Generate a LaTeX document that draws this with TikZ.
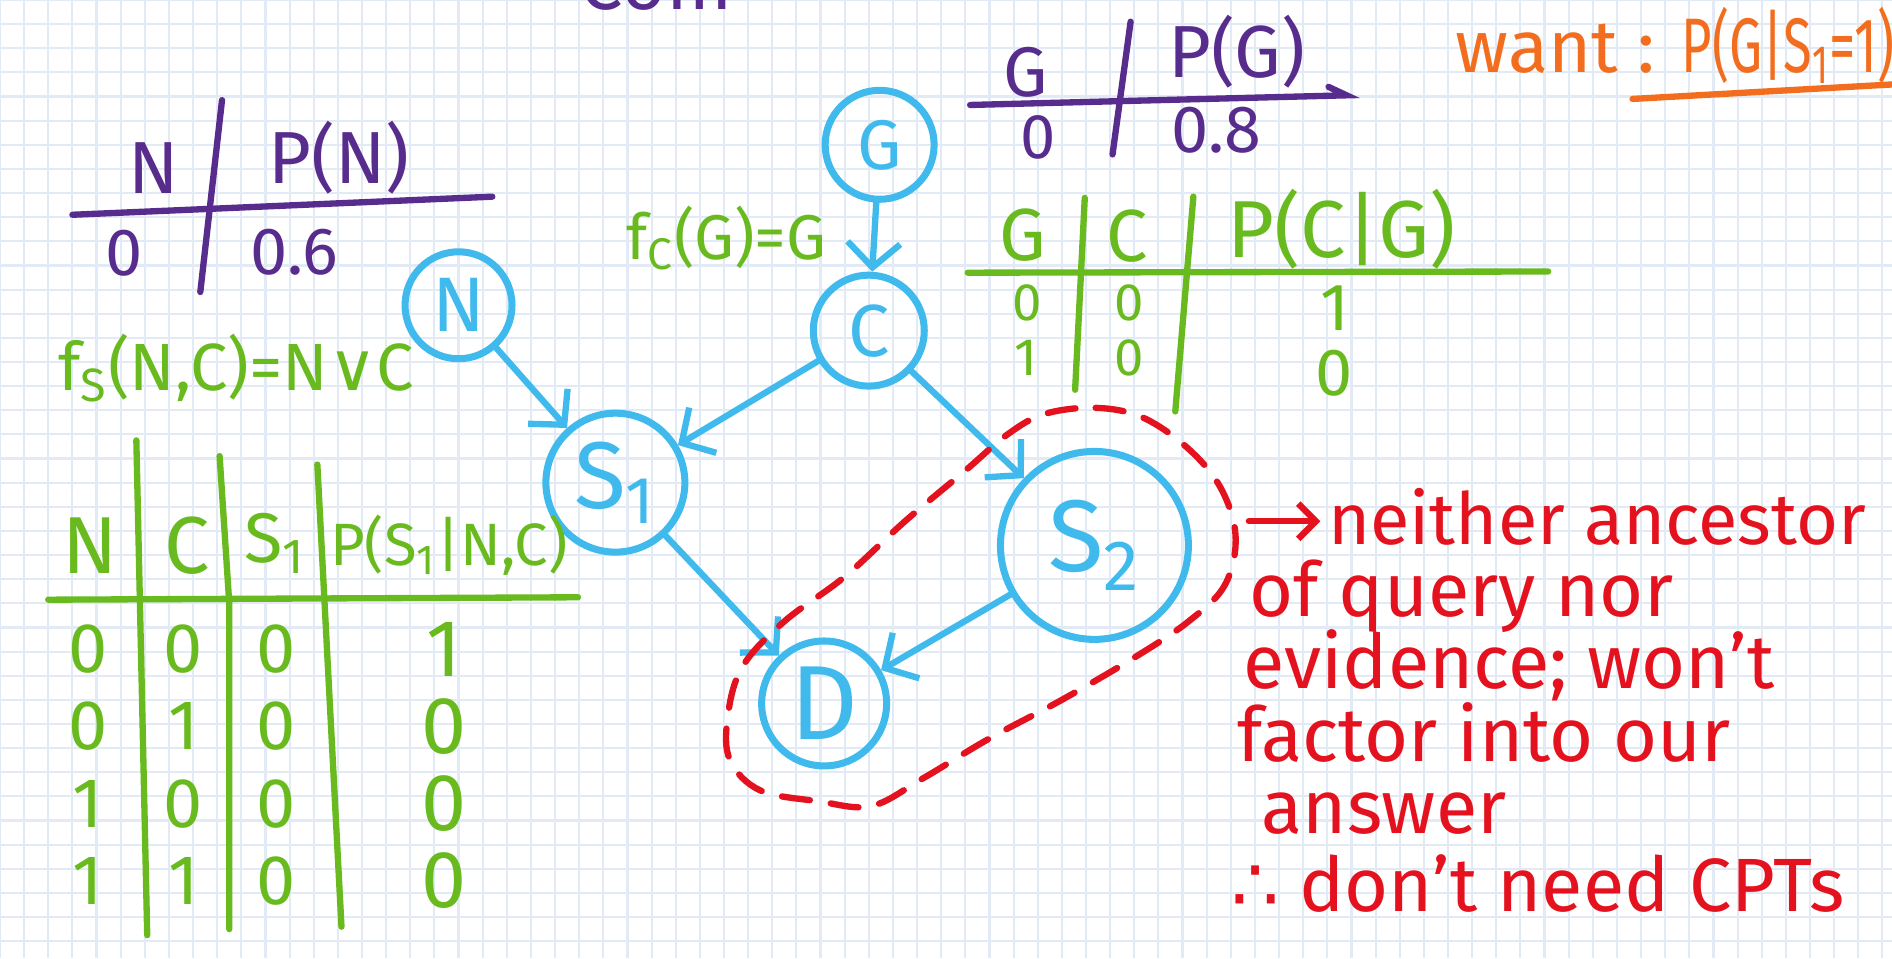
\documentclass[tikz,border=0pt]{standalone}
\usepackage{graphicx}
\usepackage{fontspec}
\setmainfont{Fira Sans}
\newfontfamily\symfont{DejaVu Sans}
\usetikzlibrary{arrows.meta}
\definecolor{cblue}{RGB}{64,186,236}
\definecolor{cgreen}{RGB}{104,186,30}
\definecolor{cpurple}{RGB}{88,44,140}
\definecolor{cred}{RGB}{228,18,30}
\definecolor{corange}{RGB}{242,110,30}
\definecolor{cgrid}{RGB}{226,234,246}
\newcommand{\myfs}[1]{\fontsize{#1}{#1}\selectfont}
\tikzset{
  gnode/.style={circle, draw=cblue, line width=2pt, text=cblue, inner sep=0pt},
  arr/.style={draw=cblue, line width=1.8pt, line cap=round, -{Straight Barb[length=7pt,width=15pt]}},
  pur/.style={text=cpurple, inner sep=0pt},
  grn/.style={text=cgreen, inner sep=0pt},
  rdt/.style={text=cred, inner sep=0pt, anchor=base west, font=\myfs{21.5}},
  org/.style={text=corange, inner sep=0pt},
  purline/.style={draw=cpurple, line width=1.8pt, line cap=round},
  grnline/.style={draw=cgreen, line width=1.8pt, line cap=round},
  gridline/.style={draw=cgrid, line width=0.6pt},
}
\begin{document}
\begin{tikzpicture}[x=0.012066cm, y=-0.012066cm]
\useasboundingbox (0,0) rectangle (1568,794);
\clip (0,0) rectangle (1568,794);
\fill[white] (0,0) rectangle (1568,794);
\foreach \gx in {0,20,...,1560} \draw[gridline] (\gx,0) -- (\gx,794);
\foreach \gy in {0,20,...,780} \draw[gridline] (0,\gy) -- (1568,\gy);

% top fragment
\node[pur, anchor=base west, font=\myfs{22}] (frag) at (480,8) {Com};

% ---- graph nodes
\node[gnode, minimum size=1.09cm, font=\myfs{20}] (G) at (729,120) {G};
\node[gnode, minimum size=1.11cm, font=\myfs{21}] (C) at (720,274) {C};
\node[gnode, minimum size=1.07cm, font=\myfs{22}] (N) at (380,253) {N};
\node[gnode, minimum size=1.39cm, font=\myfs{27}] (S1) at (510,400) {S\textsubscript{1}};
\node[gnode, minimum size=1.88cm, font=\myfs{29}] (S2) at (907,452) {S\textsubscript{2}};
\node[gnode, minimum size=1.25cm, font=\myfs{30}] (D) at (683,583) {D};

\draw[arr] (G) -- (C);
\draw[arr] (N) -- (S1);
\draw[arr] (C) -- (S1);
\draw[arr] (C) -- (S2);
\draw[arr] (S1) -- (D);
\draw[arr] (S2) -- (D);

% ---- P(N) table
\node[pur, font=\myfs{21}] (hN) at (127,139) {N};
\node[pur, font=\myfs{21}] (hPN) at (281,131) {P(N)};
\draw[purline] (184,83) -- (166,242);
\draw[purline] (60,178) -- (408,163);
\node[pur, font=\myfs{19}] (vN0) at (103,210) {0};
\node[pur, font=\myfs{19}] (vPN) at (244,209) {0.6};

% ---- P(G) table
\node[pur, font=\myfs{20}] (hG) at (850,60) {G};
\node[pur, font=\myfs{21}] (hPG) at (1025,43) {P(G)};
\draw[purline] (937,18) -- (922,128);
\draw[purline] (804,87) -- (1116,79) -- (1101,72);
\node[pur, font=\myfs{18}] (vG0) at (860,114) {0};
\node[pur, font=\myfs{19}] (vPG) at (1008,108) {0.8};

% ---- want
\node[org, anchor=base west, font=\myfs{21}] (want) at (1206,60) {want :};
\node[org, anchor=base west, font=\myfs{22}] (query) at (1393,60) {\scalebox{0.68}[1]{P(G|S\textsubscript{1}=1)}};
\draw[draw=corange, line width=1.8pt, line cap=round] (1353,82) -- (1568,70);

% ---- functions
\node[grn, font=\myfs{18}] (fc) at (602,197) {f\textsubscript{C}(G)=G};
\node[grn, font=\myfs{19}] (fs) at (196,305) {f\textsubscript{S}(N,C)=N{\symfont ∨}C};

% ---- P(C|G) table
\node[grn, font=\myfs{21}] (tG) at (848,195) {G};
\node[grn, font=\myfs{21}] (tC) at (934,196) {C};
\node[grn, font=\myfs{23}] (tP) at (1112,190) {P(C|G)};
\draw[grnline] (899,164) -- (891,323);
\draw[grnline] (989,163) -- (974,341);
\draw[grnline] (802,226) -- (1283,225);
\node[grn, font=\myfs{15}] (a11) at (851,251) {0};
\node[grn, font=\myfs{15}] (a12) at (936,251) {0};
\node[grn, font=\myfs{19}] (a13) at (1106,255) {1};
\node[grn, font=\myfs{15}] (a21) at (850,297) {1};
\node[grn, font=\myfs{15}] (a22) at (936,297) {0};
\node[grn, font=\myfs{19}] (a23) at (1106,309) {0};

% ---- P(S1|N,C) table
\node[grn, font=\myfs{23}] (sN) at (75,452) {N};
\node[grn, font=\myfs{23}] (sC) at (155,452) {C};
\node[grn, font=\myfs{20}] (sS) at (228,450) {S\textsubscript{1}};
\node[grn, font=\myfs{17}] (sP) at (372,452) {P(S\textsubscript{1}|N,C)};
\draw[grnline] (113,365) -- (122,775);
\draw[grnline] (182,378) -- (190,500) -- (190,770);
\draw[grnline] (263,385) -- (283,768);
\draw[grnline] (40,497) -- (479,495);
\foreach \n/\c/\p [count=\i] in {0/0/1, 0/1/0, 1/0/0, 1/1/0}{
  \pgfmathsetmacro{\ry}{538+(\i-1)*64}
  \node[grn, font=\myfs{20}] (r\i n) at (73,\ry) {\n};
  \node[grn, font=\myfs{20}] (r\i c) at (152,\ry) {\c};
  \node[grn, font=\myfs{20}] (r\i s) at (229,\ry) {0};
  \node[grn, font=\myfs{23}] (r\i p) at (368,\ry) {\p};
}

% ---- red dashed region
\draw[cred, line width=1.8pt, line cap=round, dash pattern=on 8pt off 6pt]
  plot[smooth cycle, tension=0.6] coordinates {
  (866,343) (908,338) (947,346) (985,372) (1012,405) (1024,445) (1015,485)
  (985,515) (940,545) (880,580) (820,612) (765,645) (722,668) (678,664)
  (630,655) (605,630) (603,595) (615,553) (650,515) (700,478) (750,432)
  (800,390) (835,360)};

% ---- red note
\node[rdt, font=\myfs{20.5}] (l1) at (1100,451) {neither ancestor};
\node[rdt] (l2) at (1035,511) {of query nor};
\node[rdt] (l3) at (1030,571) {evidence; won't};
\node[rdt] (l4) at (1025,631) {factor into our};
\node[rdt] (l5) at (1045,691) {answer};
\node[rdt] (l6) at (1020,755) {{\symfont ∴} don't need CPTs};
\coordinate (ra) at (1035,432);
\draw[draw=cred, line width=1.8pt, line cap=round, -{Straight Barb[length=5pt,width=10pt]}] (ra) -- ([xshift=-2pt]ra -| l1.west);
\end{tikzpicture}
\end{document}
